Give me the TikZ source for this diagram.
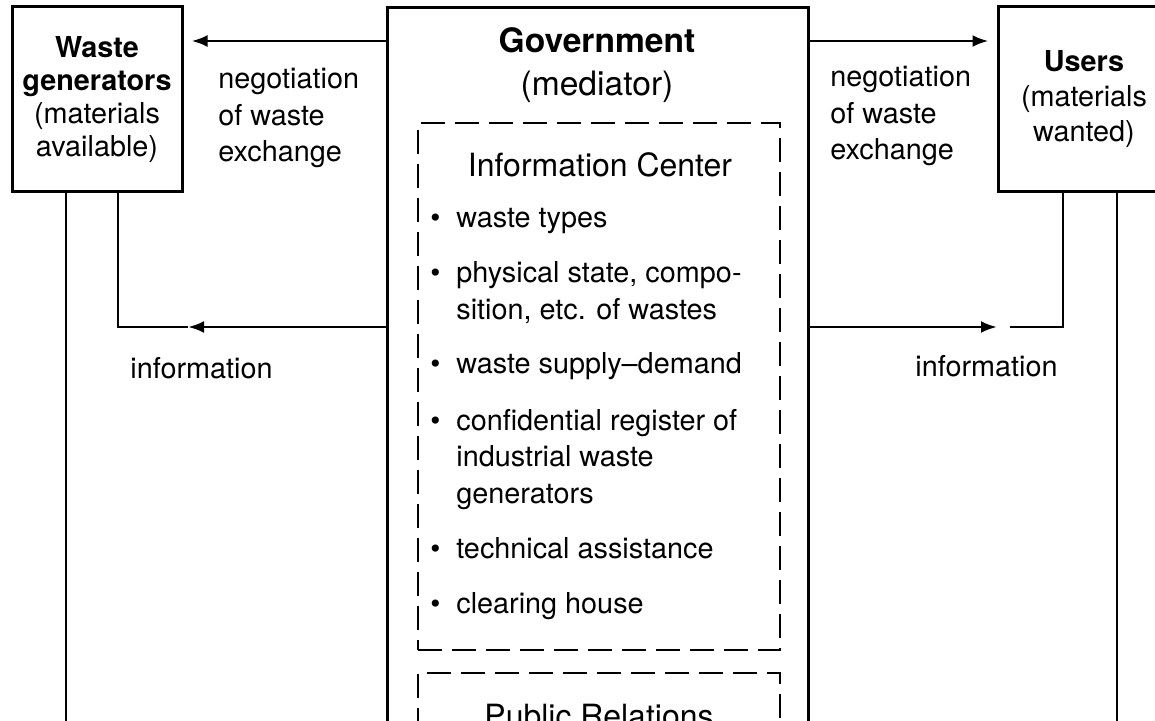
\documentclass[tikz,border=0pt]{standalone}
\usepackage{fontspec}
\setmainfont{TeX Gyre Heros}
\usetikzlibrary{arrows.meta}
% one bullet entry of the information centre
\newcommand{\wasteitem}[1]{\begin{tabular}[t]{@{}l@{}l@{}}\makebox[13pt][l]{\textbullet} & #1\end{tabular}}

\begin{document}
\begin{tikzpicture}[x=0.5pt,y=-0.5pt,
  >={Latex[length=8pt,width=6pt]},
  box/.style={draw,line width=1.5pt,inner sep=0pt},
  dashbox/.style={draw,line width=1.4pt,dash pattern=on 12pt off 5pt,inner sep=0pt},
  link/.style={line width=1.4pt},
  txt/.style={inner sep=0pt,align=left,font=\fontsize{14.4}{18.3}\selectfont},
  item/.style={inner sep=0pt,anchor=base west,font=\fontsize{14.4}{18.3}\selectfont},
  head/.style={inner sep=0pt,align=center,font=\fontsize{16}{21.5}\selectfont}]
\useasboundingbox (0,0) rectangle (1155,721);

% the three parties
\node[box,minimum width=85pt,minimum height=92.5pt,align=center,
  font=\fontsize{14.4}{16.5}\selectfont] (gen) at (97,99.5)
  {\textbf{Waste}\\\textbf{generators}\\(materials\\available)};
\node[box,minimum width=86pt,minimum height=92.5pt,align=center,
  font=\fontsize{14.4}{17.5}\selectfont] (users) at (1084,99.5)
  {\textbf{Users}\\(materials\\wanted)};
\node[box,minimum width=210.5pt,minimum height=446pt] (gov) at (597.5,454) {};
\node[head,font=\fontsize{16.8}{21.5}\selectfont] (govtitle) at (597,65)
  {\textbf{Government}\\(mediator)};

% information centre
\node[dashbox,minimum width=181pt,minimum height=263.5pt] (info) at (599,386.5) {};
\node[head] (infotitle) at (600,165) {Information Center};
\node[item] (i1) at (430,228) {\wasteitem{waste types}};
\node[item] (i2) at (430,283) {\wasteitem{physical state, compo-\\ & sition, etc. of wastes}};
\node[item] (i3) at (430,373) {\wasteitem{waste supply--demand}};
\node[item] (i4) at (430,430) {\wasteitem{confidential register of\\ & industrial waste\\ & generators}};
\node[item] (i5) at (430,558) {\wasteitem{technical assistance}};
\node[item] (i6) at (430,613) {\wasteitem{clearing house}};

% public relations
\node[dashbox,minimum width=181pt,minimum height=113.5pt] (pr) at (599,786.5) {};
\node[head,anchor=base] (prtitle) at (599,727) {Public Relations};

% labels
\node[txt,anchor=west] (negl) at (218,118) {negotiation\\of waste\\exchange};
\node[txt,anchor=west] (negr) at (830,116) {negotiation\\of waste\\exchange};
\node[txt,anchor=west] (infl) at (130,368) {information};
\node[txt,anchor=west] (infr) at (915,366) {information};

% connectors
\coordinate (top) at (0,41);
\coordinate (lout) at (66,760);
\coordinate (lin) at (118,327);
\coordinate (ltip) at (188,327);
\coordinate (rin) at (1063,327);
\coordinate (rtip) at (997,327);
\coordinate (rgap) at (1010,327);
\coordinate (rout) at (1117,760);

\draw[link,->,shorten >=4pt] (gov.west |- top) -- (gen.east |- top);
\draw[link,->,shorten >=4pt] (gov.east |- top) -- (users.west |- top);
\draw[link,->] (gov.west |- lin) -- (ltip);
\draw[link] (ltip) -- (lin) -- (gen.south -| lin);
\draw[link,->] (gov.east |- rin) -- (rtip);
\draw[link] (rgap) -- (rin) -- (users.south -| rin);
\draw[link] (gen.south -| lout) -- (lout);
\draw[link] (users.south -| rout) -- (rout);
\end{tikzpicture}
\end{document}
